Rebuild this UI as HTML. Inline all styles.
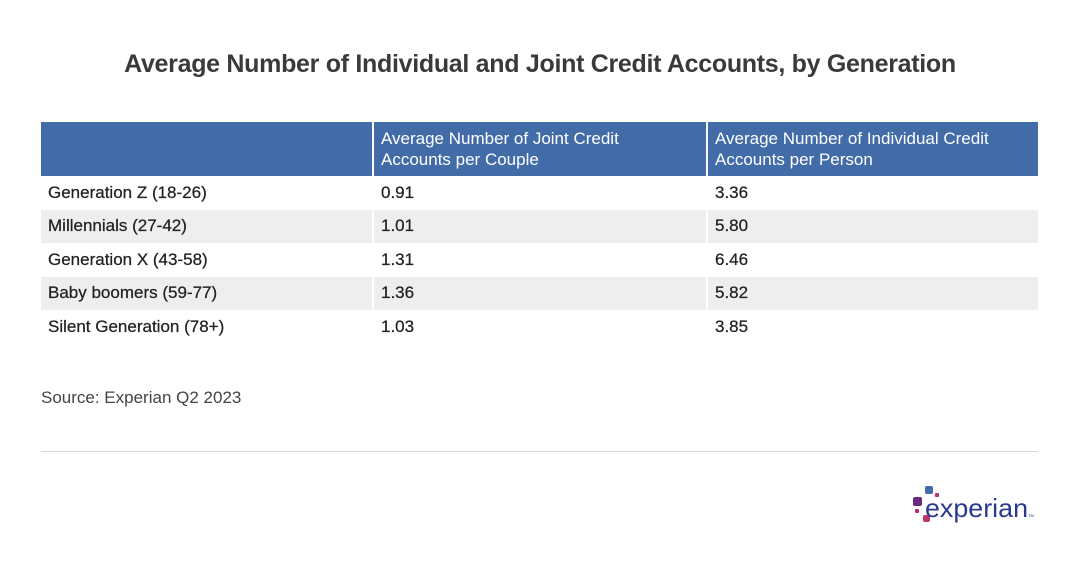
<!DOCTYPE html>
<html><head><style>
body{margin:0;width:1080px;height:562px;background:#fff;font-family:"Liberation Sans",Arial,sans-serif;position:relative;overflow:hidden;color:#333}
h1{position:absolute;left:0;width:1080px;top:50px;margin:0;text-align:center;font-size:25px;font-weight:bold;color:#3a3a3a;letter-spacing:-0.3px}
table{position:absolute;left:41px;top:122px;width:997px;border-collapse:collapse;font-size:17px}
th{background:#426ca8;color:#fff;font-weight:normal;text-align:left;vertical-align:top;padding:6px 7px 0;height:48px;border-right:2px solid #fff;line-height:21px}
th div{width:270px}
th:last-child{border-right:none}
td{height:33.5px;padding:0 7px;border-right:2px solid #fff;color:#222;-webkit-text-stroke:0.25px #222}
td:last-child{border-right:none}
tr.alt td{background:#eeeeee}
.src{position:absolute;left:41px;top:388px;font-size:17px;color:#444}
.rule{position:absolute;left:41px;top:451px;width:997px;height:1px;background:#d8d8d8}
</style></head><body>
<h1>Average Number of Individual and Joint Credit Accounts, by Generation</h1>
<table>
<colgroup><col style="width:332px"><col style="width:334px"><col></colgroup>
<tr><th></th><th><div>Average Number of Joint Credit Accounts per Couple</div></th><th><div style="width:300px">Average Number of Individual Credit Accounts per Person</div></th></tr>
<tr><td>Generation Z (18-26)</td><td>0.91</td><td>3.36</td></tr>
<tr class="alt"><td>Millennials (27-42)</td><td>1.01</td><td>5.80</td></tr>
<tr><td>Generation X (43-58)</td><td>1.31</td><td>6.46</td></tr>
<tr class="alt"><td>Baby boomers (59-77)</td><td>1.36</td><td>5.82</td></tr>
<tr><td>Silent Generation (78+)</td><td>1.03</td><td>3.85</td></tr>
</table>
<div class="src">Source: Experian Q2 2023</div>
<div class="rule"></div>
<svg style="position:absolute;left:910px;top:484px" width="125" height="45">
<rect x="15" y="2" width="8" height="8" rx="2" fill="#426ca8"/>
<rect x="25" y="9" width="4" height="4" rx="1" fill="#b4306e"/>
<rect x="3" y="13" width="9" height="9" rx="2" fill="#6a2a80"/>
<rect x="5" y="25" width="4" height="4" rx="1" fill="#b4306e"/>
<rect x="13" y="31" width="7" height="7" rx="2" fill="#c2346e"/>
<text x="15" y="33" font-family="Liberation Sans,Arial,sans-serif" font-size="26" fill="#2b3a8c" textLength="103" lengthAdjust="spacingAndGlyphs">experian</text>
<text x="118" y="33" font-size="4" fill="#2b3a8c">TM</text>
</svg>
</body></html>
